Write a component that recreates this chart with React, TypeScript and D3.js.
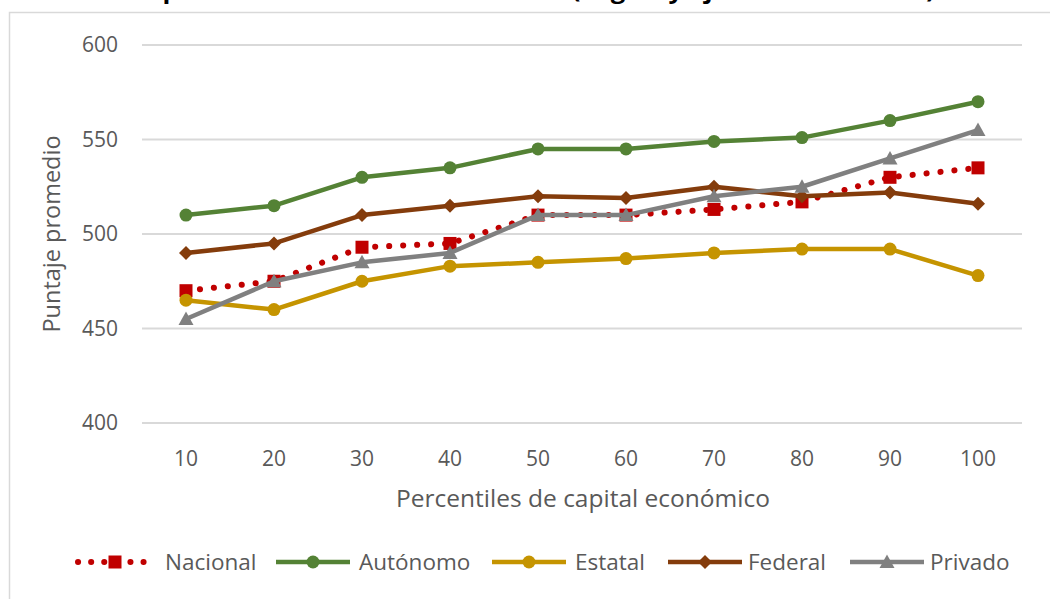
import React from "react";
import * as d3 from "d3";

const categories = ["10", "20", "30", "40", "50", "60", "70", "80", "90", "100"];
const nacional = [470, 475, 493, 495, 510, 510, 513, 517, 530, 535];
const autonomo = [510, 515, 530, 535, 545, 545, 549, 551, 560, 570];
const estatal = [465, 460, 475, 483, 485, 487, 490, 492, 492, 478];
const federal = [490, 495, 510, 515, 520, 519, 525, 520, 522, 516];
const privado = [455, 475, 485, 490, 510, 510, 520, 525, 540, 555];
const yTicks = [400, 450, 500, 550, 600];

const titleText = "Resultados promedio en la evaluación final (Lógica y ejercicio numérico)";
const yTitle = "Puntaje promedio";
const xTitle = "Percentiles de capital económico";

type Marker = "square" | "circle" | "diamond" | "triangle";
const series: { name: string; values: number[]; color: string; marker: Marker; dotted?: boolean }[] = [
  { name: "Nacional", values: nacional, color: "#C00000", marker: "square", dotted: true },
  { name: "Autónomo", values: autonomo, color: "#548235", marker: "circle" },
  { name: "Estatal", values: estatal, color: "#C59400", marker: "circle" },
  { name: "Federal", values: federal, color: "#843C0C", marker: "diamond" },
  { name: "Privado", values: privado, color: "#808080", marker: "triangle" },
];

const FONT = "'Open Sans', 'DejaVu Sans', sans-serif";
const TXT = "#595959";

function MarkerShape({ type, cx, cy, color }: { type: Marker; cx: number; cy: number; color: string }) {
  if (type === "square") return <rect x={cx - 6.5} y={cy - 6.5} width={13} height={13} fill={color} />;
  if (type === "circle") return <circle cx={cx} cy={cy} r={6.5} fill={color} />;
  if (type === "diamond") {
    const s = 7;
    return <path d={`M${cx},${cy - s}L${cx + s},${cy}L${cx},${cy + s}L${cx - s},${cy}Z`} fill={color} />;
  }
  const s = 7.5;
  return <path d={`M${cx},${cy - s}L${cx + s},${cy + s * 0.8}L${cx - s},${cy + s * 0.8}Z`} fill={color} />;
}

export default function App() {
  const W = 1050, H = 599;
  const x = d3.scaleBand<string>().domain(categories).range([142, 1022]);
  const y = d3.scaleLinear().domain([400, 600]).range([423, 45]);
  const cx = (c: string) => (x(c) ?? 0) + x.bandwidth() / 2;
  const line = d3
    .line<number>()
    .x((_, i) => cx(categories[i]))
    .y((v) => y(v));

  const legendItems = [
    { lineX: 78, textX: 165 },
    { lineX: 276, textX: 359 },
    { lineX: 492, textX: 575 },
    { lineX: 668, textX: 748 },
    { lineX: 850, textX: 930 },
  ];
  const legendY = 562;

  return (
    <div style={{ position: "fixed", left: 0, top: 0 }}>
      <svg width={W} height={H} style={{ display: "block", background: "#fff" }}>
        <text
          x={15}
          y={-2}
          textLength={920}
          lengthAdjust="spacingAndGlyphs"
          fontFamily={FONT}
          fontWeight="bold"
          fontSize={24}
          fill="#000"
        >
          {titleText}
        </text>
        <rect x={9.5} y={12.5} width={1060} height={620} fill="none" stroke="#d9d9d9" strokeWidth={1.5} />
        {yTicks.map((t) => (
          <g key={t}>
            <line x1={142} x2={1022} y1={y(t)} y2={y(t)} stroke="#d9d9d9" strokeWidth={2} />
            <text x={118} y={y(t)} dy="0.35em" textAnchor="end" fontFamily={FONT} fontSize={21} fill={TXT}>
              {t}
            </text>
          </g>
        ))}
        {categories.map((c) => (
          <text key={c} x={cx(c)} y={466} textAnchor="middle" fontFamily={FONT} fontSize={21} fill={TXT}>
            {c}
          </text>
        ))}
        <text x={583} y={507} textAnchor="middle" fontFamily={FONT} fontSize={24.5} fill={TXT}>
          {xTitle}
        </text>
        <text
          transform={`translate(60,234) rotate(-90)`}
          textAnchor="middle"
          fontFamily={FONT}
          fontSize={23.5}
          fill={TXT}
        >
          {yTitle}
        </text>
        {series.map((s) => (
          <g key={s.name}>
            <path
              d={line(s.values) ?? ""}
              fill="none"
              stroke={s.color}
              strokeWidth={s.dotted ? 6 : 4.5}
              strokeLinecap="round"
              strokeLinejoin="round"
              strokeDasharray={s.dotted ? "0.1 13.9" : undefined}
            />
            {s.values.map((v, i) => (
              <MarkerShape key={i} type={s.marker} cx={cx(categories[i])} cy={y(v)} color={s.color} />
            ))}
          </g>
        ))}
        {series.map((s, i) => {
          const it = legendItems[i];
          const mid = it.lineX + 37;
          return (
            <g key={s.name}>
              <line
                x1={it.lineX}
                x2={it.lineX + 74}
                y1={legendY}
                y2={legendY}
                stroke={s.color}
                strokeWidth={s.dotted ? 6 : 4.5}
                strokeLinecap={s.dotted ? "round" : "butt"}
                strokeDasharray={s.dotted ? "0.1 13" : undefined}
              />
              <MarkerShape type={s.marker} cx={mid} cy={legendY} color={s.color} />
              <text x={it.textX} y={legendY} dy="0.35em" fontFamily={FONT} fontSize={22.5} fill={TXT}>
                {s.name}
              </text>
            </g>
          );
        })}
      </svg>
    </div>
  );
}
